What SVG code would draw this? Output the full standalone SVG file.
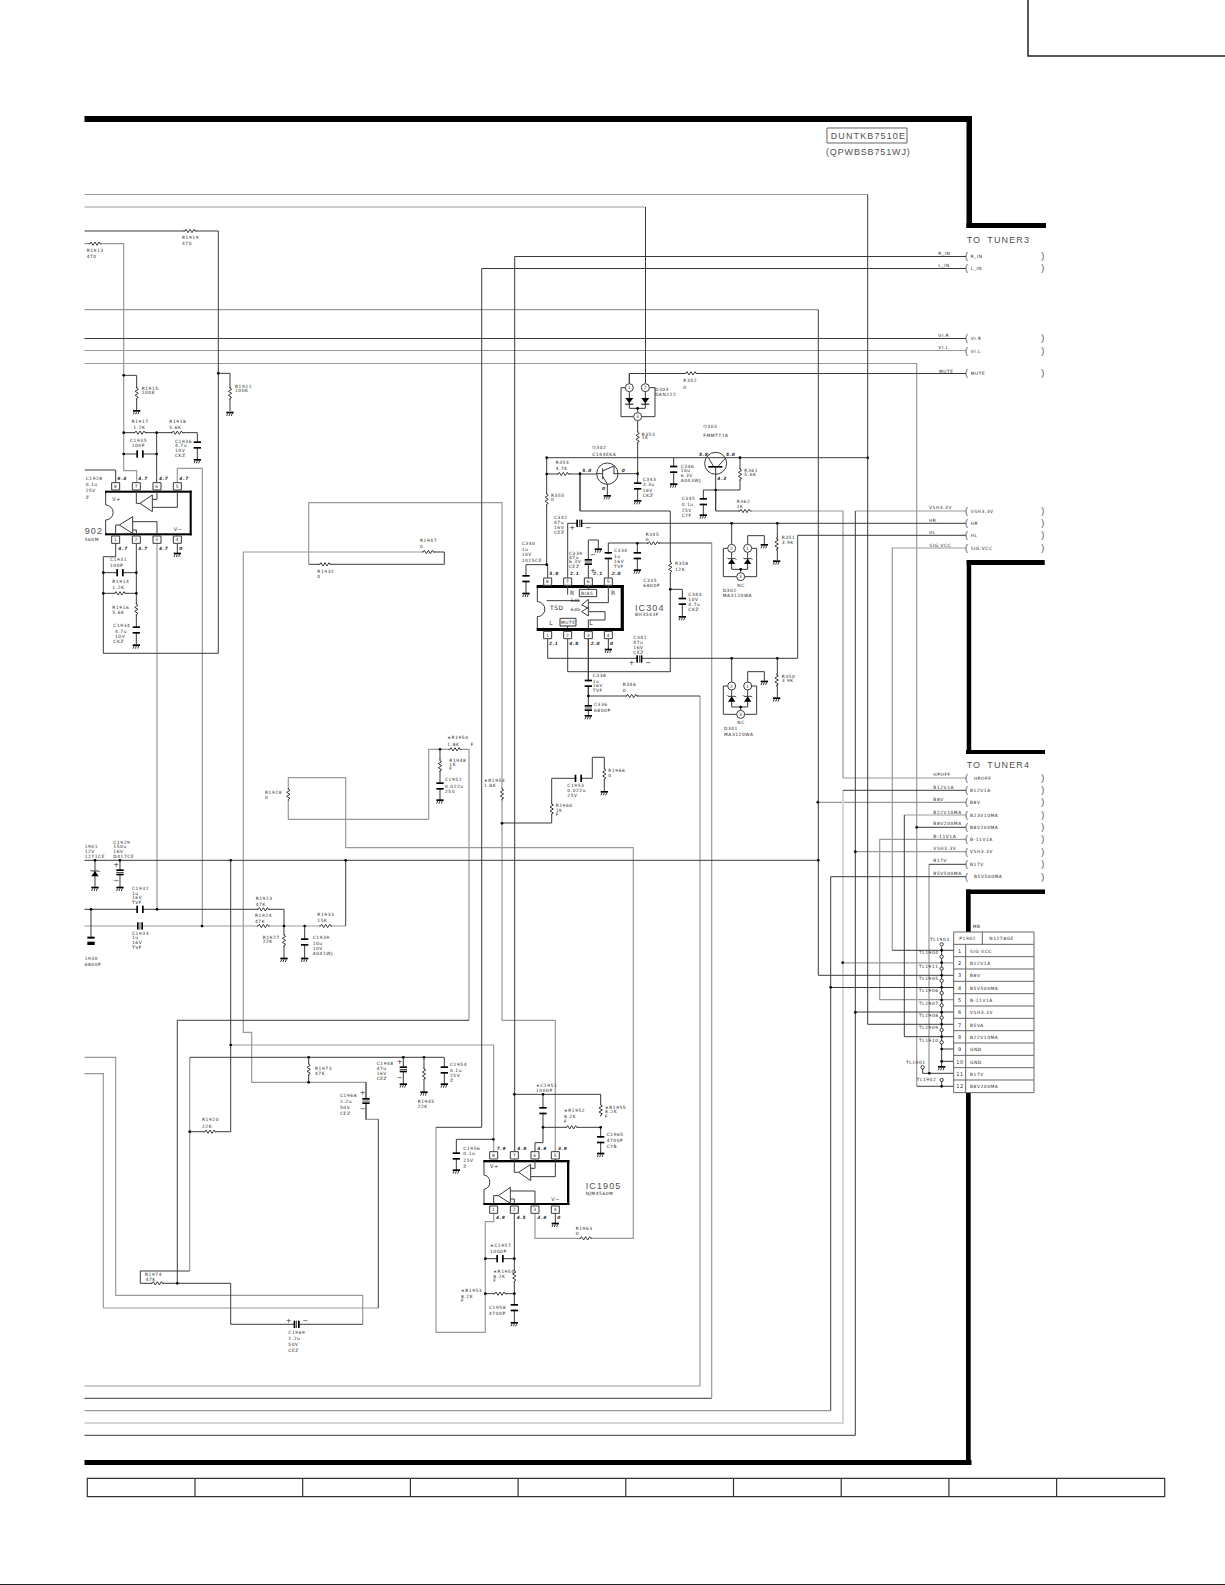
<svg xmlns="http://www.w3.org/2000/svg" xmlns:xlink="http://www.w3.org/1999/xlink" width="1225" height="1585" viewBox="0 0 1225 1585">
<style>
path,line,rect,circle,polygon{vector-effect:non-scaling-stroke}
text{font:13.2px "DejaVu Sans",sans-serif;letter-spacing:1.7px;fill:#222;opacity:.97}
.v{font-style:italic;font-weight:bold}
.big{font:27px "Liberation Sans",sans-serif;letter-spacing:3.4px;fill:#4a4a4a}
.p{font-size:21px}
.n{font-size:15px;text-anchor:middle}
.m{text-anchor:middle}
.d,.g,.l{fill:none}
.d{stroke:#3a3a3a;stroke-width:1}
.g{stroke:#999;stroke-width:1.2}
.l{stroke:#d6d6d6;stroke-width:2}
.s{fill:#fff;stroke:#3a3a3a;stroke-width:1}
.h{fill:none;stroke:#3a3a3a;stroke-width:1}
.k{fill:#000}
.th{fill:none;stroke:#666;stroke-width:1}
</style>
<defs>
<g id="r"><rect x="-16" y="-7" width="32" height="14" fill="#fff"/><path class="h" d="M-19 0H-15L-12 -5L-6 5L0 -5L6 5L12 -5L15 0H19"/></g>
<g id="rv"><use xlink:href="#r" href="#r" transform="rotate(90)"/></g>
<g id="e"><rect class="k" x="-11" y="-2" width="22" height="5"/><path class="h" d="M-7 3l-3 8M0 3l-3 8M7 3l-3 8"/></g>
<g id="c"><rect x="-11" y="-6" width="22" height="12" fill="#fff"/><rect class="k" x="-11" y="-11" width="22" height="5"/><rect class="k" x="-11" y="6" width="22" height="5"/></g>
<g id="ch"><use xlink:href="#c" href="#c" transform="rotate(90)"/></g>
<g id="pc"><rect x="-11" y="-6" width="22" height="12" fill="#fff"/><rect class="k" x="-11" y="-9" width="22" height="5"/><rect class="k" x="-11" y="-1" width="22" height="2"/><rect class="k" x="-11" y="4" width="22" height="5"/></g>
<g id="pch"><use xlink:href="#pc" href="#pc" transform="rotate(90)"/></g>
<circle id="o" class="k" r="4"/>
<rect id="pin" class="s" x="-12" y="-11" width="24" height="22"/>
<g id="z"><polygon class="k" points="-11,9 11,9 0,-7"/><path class="h" d="M-14 -10L-11 -7H11L14 -4"/></g>
<g id="dd"><polygon class="k" points="-12,-8 12,-8 0,8"/><rect class="k" x="-12" y="9" width="24" height="3"/></g>
</defs>

<g id="connectors">
<path class="g" d="M84.5 194.5H867.7M84.5 207H645.5M84.5 243.7H123.7V470.7H136.7V482.7M84.5 309.7H818.3M84.5 350.5H966M84.5 363.5H916.7V1086.3M966 548H892.3V950.3M966 511H855.3M745 511H843V778H966M966 802.3H818.3M966 815H904.3M966 839.3H879.7V999.7H953.7M966 851.7H855.3M929 864.3V1073.3M843 962.8H953.7"/>
<path class="g" d="M700 696V1386H84.5M711.7 543V1398M157 543.3V909.3M202.3 468.3H177.3V482.7M202.3 468.3V926M428 552H243.3V1032.3H251.7V1082.3H366V1119.3H378.3M103.3 1308H378.3M103.3 1308V1073.7H84.5M189.7 1271V1057.3M308.7 564.3V502.7H502V1020.3H555.3V1151.7M428.7 819.3V749.3H469V1020.3M428.7 819.3H288.3V777.7H345.7V847.7H633.3V1238.3H535V1213.3M230.7 1045H493.7V1151.7M362.7 1324.3V1295.3H115.7V1057.3H84.5M84.5 1410.7H830.7M436 1127.3V1332.3H485.3V1221.7H493.7V1213.3M84.5 926H345.7"/>
<path class="l" d="M843 790.3V1423H84.5"/>
<path class="d" d="M867.7 194.5V1024.3H953.7M645.5 207V383M84.5 231H218.3V653.3H103.3V556.7H115.7V543.3M966 256.5H514.7V1151.7M966 268.5H481.7V1127.3H436M818.3 309.7V975.3H953.7M84.5 338.5H966M966 373.5H629.3V383M567.7 578V523.3H966M547.7 638V658.3H797.7V535.3H966M892.3 950.3H953.7M855.3 511V1435.3H84.5M715.7 490V511H745M966 790.3H843M904.3 815V1036.7H953.7M966 827.3H916.7M916.7 1086.3H953.7M966 864.3H929M929 1073.3H953.7M966 876.7H830.7V1410.7M830.7 987.5H953.7M855.3 1012H953.7M84.5 860.3H818.3M546.7 457.7H867.7M608.3 578V543H711.7M711.7 1398.3H84.5M588.3 638V696H700M580 473.7V511H670.3V671.7H567.7V638M84.5 909.3H284V926M378.3 1119.3V1308M469 1020.3H177.3V1283.3H140.3V1271H189.7M177.3 1283.3H230.7V1324.3H362.7M189.7 1057.3H444M230.7 860.3V1131.7H189.7M502 823H551.7V778.3H592.3V757.3H604.3V791.7M428 552H444.3V564.3H308.7M345.7 926V860.3"/>
<g transform="translate(500 360) scale(.33333)">
<path class="d" d="M413 182V420M340 341H413M140 293V614M78 614H143V654M78 614V700M140 342H290M521 293V372M720 293V390H647M647 340V453M610 390H647M610 390V465M240 341V453M265 654V540H295V565M412 550V630M511 688H547V770M325 835V868M265 835V1072M388 40V71M695 490V553M743 553V527H793V552M832 490V600M695 895V966M743 966V935H793V962M832 895V1012M322 372V405"/>
</g>
<g transform="translate(80 360) scale(.33333)">
<path class="d" d="M131 46H170V150M415 40H450V153M131 218H352V297M131 282H230M230 218V368M107 368V330H14M292 550V580M169 550V853M70 638H169M70 700H169"/>
</g>
<g transform="translate(80 830) scale(.33333)">
<path class="d" d="M45 91V170M120 91V172M33 238V325M612 288V385M674 288V385M686 682V757M970 682V762M1032 682V785M1093 682V762M858 757V868"/>
</g>
<g transform="translate(240 720) scale(.33333)">
<path class="d" d="M600 88V240"/>
</g>
<g transform="translate(420 1080) scale(.33333)">
<path class="d" d="M109 178H220M109 178V270M283 43H542V107M369 43V188H345V215M369 142H542V220M406 238V290H332M196 536H283M196 641H283M283 400V728M406 400V430"/>
</g>
</g>

<g id="frame" class="k">
<rect x="84.5" y="116" width="887.5" height="6"/><rect x="966.5" y="116" width="5.5" height="112"/><rect x="966.5" y="223" width="79.5" height="5"/>
<rect x="966.7" y="560" width="78" height="5"/><rect x="966.7" y="560" width="4.5" height="194"/><rect x="966" y="750" width="79" height="4"/>
<rect x="966" y="889.5" width="79" height="4.5"/><rect x="966" y="889.5" width="4.7" height="42.5"/><rect x="966" y="1092.7" width="4.7" height="372"/><rect x="84.5" y="1460" width="887" height="5"/>
<path fill="none" stroke="#222" stroke-width="1.5" d="M1028 0V56H1225"/>
<path fill="none" stroke="#222" stroke-width="1" d="M0 1584.5H1225"/>
<path fill="none" stroke="#333" stroke-width="1.2" d="M87.3 1478.3H1164.7V1496.7H87.3ZM195 1478.3V1496.7M302.7 1478.3V1496.7M410.4 1478.3V1496.7M518.1 1478.3V1496.7M625.8 1478.3V1496.7M733.5 1478.3V1496.7M841.2 1478.3V1496.7M948.9 1478.3V1496.7M1056.6 1478.3V1496.7"/>
</g>

<g id="title" transform="scale(.33333)">
<rect x="2481" y="384" width="240" height="45" fill="none" stroke="#666" stroke-width="1"/>
<text class="big" x="2492" y="416">DUNTKB7510E</text>
<text class="big" x="2478" y="464" style="letter-spacing:2.6px">(QPWBSB751WJ)</text>
</g>

<g id="R1919" transform="scale(.33333)"><use href="#r" x="570" y="693"/><text x="546" y="717">R1919</text><text x="546" y="736">470</text></g>
<g id="R1913" transform="scale(.33333)"><use href="#r" x="285" y="731"/><text x="260" y="756">R1913</text><text x="260" y="774">470</text></g>

<g id="tuner3" transform="translate(840 220) scale(.33333)">
<text class="big" x="380" y="68" word-spacing="8">TO TUNER3</text>
<text x="295" y="105">R_IN</text><text x="295" y="141">L_IN</text><text x="295" y="352">VI.R</text><text x="295" y="388">VI.L</text><text x="297" y="458">MUTE</text><text x="267" y="868">VSH3.3V</text><text x="267" y="905">HR</text><text x="267" y="941">HL</text><text x="268" y="980">SIG.VCC</text>
<text x="392" y="114">R_IN</text><text x="392" y="151">L_IN</text><text x="392" y="360">VI.R</text><text x="392" y="398">VI.L</text><text x="392" y="466">MUTE</text><text x="392" y="878">VSH3.3V</text><text x="392" y="915">HR</text><text x="392" y="951">HL</text><text x="392" y="989">SIG.VCC</text>
<text class="big" x="375" y="118">(</text><text class="big" x="375" y="154">(</text><text class="big" x="375" y="364">(</text><text class="big" x="375" y="401">(</text><text class="big" x="375" y="469">(</text><text class="big" x="375" y="882">(</text><text class="big" x="375" y="919">(</text><text class="big" x="375" y="955">(</text><text class="big" x="375" y="993">(</text>
<text class="big" x="604" y="118">)</text><text class="big" x="604" y="154">)</text><text class="big" x="604" y="364">)</text><text class="big" x="604" y="401">)</text><text class="big" x="604" y="469">)</text><text class="big" x="604" y="882">)</text><text class="big" x="604" y="919">)</text><text class="big" x="604" y="955">)</text><text class="big" x="604" y="993">)</text>
</g>

<g id="tuner4" transform="translate(820 750) scale(.33333)">
<text class="big" x="440" y="55" word-spacing="8">TO TUNER4</text>
<text x="340" y="79">HPOFF</text><text x="340" y="117">B12V1A</text><text x="340" y="153">B8V</text><text x="340" y="192">B22V10MA</text><text x="340" y="225">B8V200MA</text><text x="340" y="263">B-11V1A</text><text x="340" y="300">VSH3.3V</text><text x="340" y="337">B17V</text><text x="340" y="374">B5V500MA</text>
<text x="462" y="89">HPOFF</text><text x="450" y="126">B12V1A</text><text x="450" y="162">B8V</text><text x="450" y="200">B23V10MA</text><text x="450" y="237">B8V200MA</text><text x="450" y="273">B-11V1A</text><text x="450" y="310">VSH3.3V</text><text x="450" y="348">B17V</text><text x="462" y="385">B5V500MA</text>
<text class="big" x="435" y="93">(</text><text class="big" x="435" y="130">(</text><text class="big" x="435" y="166">(</text><text class="big" x="435" y="204">(</text><text class="big" x="435" y="241">(</text><text class="big" x="435" y="277">(</text><text class="big" x="435" y="314">(</text><text class="big" x="435" y="352">(</text><text class="big" x="435" y="389">(</text>
<text class="big" x="664" y="93">)</text><text class="big" x="664" y="130">)</text><text class="big" x="664" y="166">)</text><text class="big" x="664" y="204">)</text><text class="big" x="664" y="241">)</text><text class="big" x="664" y="277">)</text><text class="big" x="664" y="314">)</text><text class="big" x="664" y="352">)</text><text class="big" x="664" y="389">)</text>
<use href="#o" x="290" y="232"/>
</g>

<g id="P1902" transform="translate(820 750) scale(.33333)">
<text x="458" y="535">MB</text>
<path class="h" d="M365 590V950"/>
<path class="h" d="M365 897H401M365 934H401"/>
<use href="#e" x="365" y="950"/>
<rect x="401" y="546" width="241" height="482" fill="#fff" stroke="#666" stroke-width="1"/>
<path class="th" d="M401 583H642M401 620H642M401 657H642M401 694H642M401 731H642M401 768H642M401 805H642M401 842H642M401 879H642M401 916H642M401 953H642M401 990H642M437 583V1028M487 546V583"/>
<text x="418" y="571">P1902</text><text x="508" y="571">N1278GE</text>
<text class="n" x="420" y="608">1</text><text class="n" x="420" y="645">2</text><text class="n" x="420" y="682">3</text><text class="n" x="420" y="719">4</text><text class="n" x="420" y="756">5</text><text class="n" x="420" y="793">6</text><text class="n" x="420" y="830">7</text><text class="n" x="420" y="867">8</text><text class="n" x="420" y="904">9</text><text class="n" x="420" y="941">10</text><text class="n" x="420" y="978">11</text><text class="n" x="420" y="1015">12</text>
<text x="450" y="608">SIG VCC</text><text x="450" y="645">B12V1A</text><text x="450" y="682">B8V</text><text x="450" y="719">B5V500MA</text><text x="450" y="756">B-11V1A</text><text x="450" y="793">VSH3.3V</text><text x="450" y="830">B5VA</text><text x="450" y="867">B22V10MA</text><text x="450" y="904">GND</text><text x="450" y="941">GND</text><text x="450" y="978">B17V</text><text x="450" y="1015">B8V200MA</text>
<g fill="#fff" stroke="#3a3a3a">
<circle cx="365" cy="583" r="5"/><circle cx="365" cy="620" r="5"/><circle cx="365" cy="656" r="5"/><circle cx="365" cy="692" r="5"/><circle cx="365" cy="729" r="5"/><circle cx="365" cy="766" r="5"/><circle cx="365" cy="803" r="5"/><circle cx="365" cy="840" r="5"/><circle cx="365" cy="877" r="5"/><circle cx="308" cy="952" r="5"/><circle cx="365" cy="990" r="5"/>
</g>
<path class="h" d="M308 957V970H328M365 995V1009"/>
<use href="#o" x="365" y="601"/><use href="#o" x="365" y="638"/><use href="#o" x="365" y="676"/><use href="#o" x="365" y="712"/><use href="#o" x="365" y="750"/><use href="#o" x="365" y="787"/><use href="#o" x="365" y="823"/><use href="#o" x="365" y="860"/><use href="#o" x="365" y="897"/><use href="#o" x="365" y="934"/><use href="#o" x="328" y="970"/><use href="#o" x="365" y="1009"/>
<use href="#o" x="68" y="638"/><use href="#o" x="32" y="712"/><use href="#o" x="106" y="787"/><use href="#o" x="106" y="305"/>
<text x="330" y="572">TL1903</text><text x="297" y="613">TL1904</text><text x="297" y="653">TL1911</text><text x="297" y="690">TL1905</text><text x="297" y="727">TL1906</text><text x="297" y="764">TL1907</text><text x="297" y="801">TL1908</text><text x="297" y="838">TL1909</text><text x="297" y="875">TL1910</text><text x="258" y="943">TL1901</text><text x="290" y="993">TL1902</text>
</g>

<g id="junctions-right"><circle class="k" cx="817.8" cy="802.3" r="1.3"/><circle class="k" cx="818.3" cy="860.3" r="1.3"/><circle class="k" cx="867.7" cy="457.7" r="1.3"/></g>

<g id="area-ic304" transform="translate(500 360) scale(.33333)">
<g id="D303"><path class="h" d="M363 83H376M363 83V170H401M425 170H465V83H448M388 95V145H436V95M413 145V158"/><use href="#dd" x="388" y="122"/><use href="#dd" x="436" y="122"/><use href="#o" x="413" y="145"/><circle class="s" cx="388" cy="83" r="12"/><circle class="s" cx="436" cy="83" r="12"/><circle class="s" cx="413" cy="170" r="12"/><text class="m" x="388" y="88">1</text><text class="m" x="436" y="88">2</text><text class="m" x="413" y="175">3</text><text x="465" y="93">D303</text><text x="465" y="108">DAN222</text></g>
<g id="R352"><use href="#r" x="573" y="40"/><text x="550" y="67">R352</text><text x="550" y="87">0</text></g>
<g id="R353"><use href="#rv" x="413" y="232"/><text x="425" y="227">R353</text><text x="425" y="238">1K</text></g>
<g id="Q302"><circle class="h" cx="322" cy="341" r="32"/><path class="h" d="M290 341H308M308 325V357M308 333L342 318V341M308 349L322 372"/><use href="#e" x="322" y="407"/><text x="277" y="267">Q302</text><text x="277" y="287">C144EKA</text><text class="v" x="247" y="335">5.0</text><text class="v" x="365" y="335">0</text><text class="v" x="306" y="390">0</text></g>
<g id="Q303"><circle class="h" cx="647" cy="310" r="33"/><path class="h" d="M625 293L640 318M655 318L678 293"/><rect class="k" x="625" y="318" width="42" height="5"/><path class="h" d="M647 323V343"/><text x="610" y="205">Q303</text><text x="610" y="231">FMMT718</text><text class="v" x="597" y="288">5.8</text><text class="v" x="678" y="288">5.0</text><text class="v" x="652" y="360">4.3</text></g>
<g id="R354"><use href="#r" x="190" y="342"/><text x="167" y="312">R354</text><text x="167" y="330">4.7K</text></g>
<g id="R355"><use href="#rv" x="140" y="418"/><text x="153" y="410">R355</text><text x="153" y="422">0</text></g>
<g id="R361"><use href="#rv" x="720" y="343"/><text x="733" y="336">R361</text><text x="733" y="349">5.6K</text></g>
<g id="R362"><use href="#r" x="735" y="453"/><text x="710" y="428">R362</text><text x="710" y="443">1K</text></g>
<g id="C346"><use href="#c" x="521" y="328"/><use href="#e" x="521" y="372"/><text x="542" y="323">C346</text><text x="542" y="337">10u</text><text x="542" y="351">6.3V</text><text x="542" y="365">A043WJ</text></g>
<g id="C343"><use href="#c" x="413" y="378"/><use href="#e" x="413" y="422"/><text x="428" y="363">C343</text><text x="428" y="378">3.3u</text><text x="428" y="395">16V</text><text x="428" y="410">CKZ</text></g>
<g id="C345"><use href="#c" x="610" y="425"/><use href="#e" x="610" y="465"/><text x="545" y="420">C345</text><text x="545" y="437">0.1u</text><text x="545" y="455">25V</text><text x="545" y="472">CYF</text></g>
<g id="C342"><use href="#pch" x="238" y="490"/><text x="162" y="477">C342</text><text x="162" y="493">47u</text><text x="162" y="508">16V</text><text x="162" y="522">CEZ</text><text class="p" x="208" y="511">+</text><text class="p" x="256" y="511">−</text></g>
<g id="C340"><use href="#c" x="78" y="656"/><use href="#e" x="78" y="700"/><text x="65" y="556">C340</text><text x="65" y="572">1u</text><text x="65" y="588">10V</text><text x="65" y="606">1025CE</text></g>
<g id="C338"><use href="#pc" x="265" y="606"/><use href="#e" x="295" y="567"/><text x="207" y="585">C339</text><text x="207" y="597">47u</text><text x="207" y="610">6.3V</text><text x="207" y="624">CEZ</text><text class="p" x="270" y="591">−</text><text class="p" x="270" y="640">+</text></g>
<g id="C334"><use href="#c" x="325" y="587"/><text x="342" y="577">C334</text><text x="342" y="593">1u</text><text x="342" y="609">16V</text><text x="342" y="625">TVF</text></g>
<g id="C335"><use href="#c" x="412" y="587"/><use href="#e" x="412" y="630"/><text x="430" y="665">C335</text><text x="430" y="682">6800P</text></g>
<g id="R345"><use href="#r" x="460" y="550"/><text x="437" y="528">R345</text><text x="437" y="542">0</text></g>
<g id="R358"><use href="#rv" x="511" y="622"/><text x="525" y="615">R358</text><text x="525" y="633">12K</text></g>
<g id="C344"><use href="#c" x="547" y="724"/><use href="#e" x="547" y="770"/><text x="565" y="708">C344</text><text x="565" y="723">10V</text><text x="565" y="739">4.7u</text><text x="565" y="754">CKZ</text></g>
<g id="C341"><use href="#pch" x="418" y="897"/><text x="400" y="837">C341</text><text x="400" y="852">47u</text><text x="400" y="867">16V</text><text x="400" y="881">CEZ</text><text class="p" x="386" y="916">+</text><text class="p" x="436" y="916">−</text></g>
<g id="C336"><use href="#c" x="265" y="970"/><use href="#pc" x="265" y="1044"/><use href="#e" x="265" y="1067"/><text x="278" y="952">C338</text><text x="278" y="968">1u</text><text x="278" y="982">16V</text><text x="278" y="996">TVF</text><text x="282" y="1038">C336</text><text x="282" y="1057">6800P</text></g>
<g id="R346"><use href="#r" x="395" y="1008"/><text x="368" y="978">R346</text><text x="368" y="995">0</text></g>
<g id="IC304">
<path class="s" d="M112 678H370V808H112V770A22 22 0 0 0 112 725Z"/>
<rect class="k" x="110" y="675" width="261" height="9"/><rect class="k" x="110" y="804" width="261" height="9"/><rect class="k" x="362" y="675" width="9" height="138"/>
<path class="h" d="M325 676V728H265M265 755H315V780H265V804M203 676V704M265 676V688M203 798V804M245 735L265 718V745ZM245 755L265 742V768ZM140 722H238"/>
<rect class="s" x="238" y="688" width="52" height="22"/><rect class="s" x="180" y="775" width="48" height="23"/>
<text x="243" y="704">BIAS</text><text x="183" y="791">MUTE</text>
<text x="210" y="705" style="font-size:18px">R</text><text x="333" y="705" style="font-size:18px">R</text><text x="148" y="794" style="font-size:18px">L</text><text x="268" y="796" style="font-size:18px">L</text><text x="150" y="751" style="font-size:18px">TSD</text><text x="212" y="727">6db</text><text x="212" y="753">6db</text>
<use href="#pin" x="143" y="665"/><use href="#pin" x="203" y="665"/><use href="#pin" x="265" y="665"/><use href="#pin" x="325" y="665"/><use href="#pin" x="143" y="825"/><use href="#pin" x="203" y="825"/><use href="#pin" x="265" y="825"/><use href="#pin" x="325" y="825"/>
<text class="m" x="143" y="670">8</text><text class="m" x="203" y="670">7</text><text class="m" x="265" y="670">6</text><text class="m" x="325" y="670">5</text><text class="m" x="143" y="830">1</text><text class="m" x="203" y="830">2</text><text class="m" x="265" y="830">3</text><text class="m" x="325" y="830">4</text>
<text class="v" x="148" y="645">5.8</text><text class="v" x="210" y="645">2.1</text><text class="v" x="280" y="645">2.1</text><text class="v" x="335" y="645">2.0</text><text class="v" x="147" y="856">2.1</text><text class="v" x="208" y="856">4.8</text><text class="v" x="272" y="856">2.0</text><text class="v" x="330" y="856">0</text>
<text class="big" x="405" y="752">IC304</text><text x="405" y="769">BH3543F</text>
<use href="#e" x="325" y="868"/>
</g>
<g id="D302"><path class="h" d="M670 565H683M670 565V650H710M734 650H770V565H755M695 577V628H743V577M722 628V638"/><use href="#z" x="695" y="603"/><use href="#z" x="743" y="603"/><use href="#o" x="722" y="628"/><circle class="s" cx="695" cy="565" r="12"/><circle class="s" cx="743" cy="565" r="12"/><circle class="s" cx="722" cy="650" r="12"/><text class="m" x="695" y="570">2</text><text class="m" x="743" y="570">1</text><text class="m" x="722" y="655">3</text><text x="712" y="680">NC</text><text x="668" y="695">D302</text><text x="668" y="712">MA3120WA</text><use href="#e" x="793" y="554"/></g>
<g id="R351"><use href="#rv" x="830" y="552"/><use href="#e" x="830" y="603"/><text x="845" y="538">R351</text><text x="845" y="552">3.9K</text></g>
<g id="D301"><path class="h" d="M670 978H683M670 978V1063H710M734 1063H770V978H755M695 990V1041H743V990M722 1041V1051"/><use href="#z" x="695" y="1016"/><use href="#z" x="743" y="1016"/><use href="#o" x="722" y="1041"/><circle class="s" cx="695" cy="978" r="12"/><circle class="s" cx="743" cy="978" r="12"/><circle class="s" cx="722" cy="1063" r="12"/><text class="m" x="695" y="983">2</text><text class="m" x="743" y="983">1</text><text class="m" x="722" y="1068">3</text><text x="712" y="1093">NC</text><text x="672" y="1110">D301</text><text x="672" y="1127">MA3120WA</text><use href="#e" x="793" y="964"/></g>
<g id="R350"><use href="#rv" x="830" y="960"/><use href="#e" x="830" y="1014"/><text x="845" y="953">R350</text><text x="845" y="966">3.9K</text></g>
<g id="dots304"><use href="#o" x="140" y="342"/><use href="#o" x="240" y="341"/><use href="#o" x="413" y="341"/><use href="#o" x="720" y="293"/><use href="#o" x="647" y="390"/><use href="#o" x="140" y="614"/><use href="#o" x="412" y="550"/><use href="#o" x="511" y="688"/><use href="#o" x="265" y="1008"/><use href="#o" x="695" y="490"/><use href="#o" x="832" y="490"/><use href="#o" x="695" y="895"/><use href="#o" x="832" y="895"/><use href="#o" x="140" y="293"/></g>
</g>

<g id="area-ic1902" transform="translate(80 360) scale(.33333)">
<g id="IC1902">
<path class="s" d="M77 395H332V523H77V480A22 22 0 0 0 77 435Z"/>
<rect class="k" x="75" y="392" width="260" height="6"/><rect class="k" x="75" y="520" width="260" height="6"/><rect class="k" x="329" y="392" width="6" height="134"/>
<path class="h" d="M169 390V430H180M231 390V418H217M292 390V442H217M180 430L217 405V455ZM118 495L158 470V520ZM107 523V495H118M231 523V485H158M169 523V510H158"/>
<use href="#pin" x="107" y="379"/><use href="#pin" x="169" y="379"/><use href="#pin" x="231" y="379"/><use href="#pin" x="292" y="379"/><use href="#pin" x="107" y="539"/><use href="#pin" x="169" y="539"/><use href="#pin" x="231" y="539"/><use href="#pin" x="292" y="539"/>
<text class="m" x="107" y="384">8</text><text class="m" x="169" y="384">7</text><text class="m" x="231" y="384">6</text><text class="m" x="292" y="384">5</text><text class="m" x="107" y="544">1</text><text class="m" x="169" y="544">2</text><text class="m" x="231" y="544">3</text><text class="m" x="292" y="544">4</text>
<text class="v" x="112" y="360">9.4</text><text class="v" x="175" y="360">4.7</text><text class="v" x="237" y="360">4.7</text><text class="v" x="298" y="360">4.7</text><text class="v" x="115" y="570">4.7</text><text class="v" x="175" y="570">4.7</text><text class="v" x="237" y="570">4.7</text><text class="v" x="298" y="570">0</text>
<text x="97" y="423" style="font-size:15px">V+</text><text x="281" y="513" style="font-size:15px">V−</text>
<text class="big" x="14" y="523">902</text><text x="14" y="542">560M</text>
<text x="17" y="360">C1928</text><text x="17" y="378">0.1u</text><text x="17" y="396">25V</text><text x="17" y="417">Z</text>
<use href="#e" x="292" y="580"/>
</g>
<g id="R1915"><use href="#rv" x="170" y="100"/><use href="#e" x="170" y="152"/><text x="185" y="90">R1915</text><text x="185" y="103">100K</text></g>
<g id="R1921"><use href="#rv" x="450" y="100"/><use href="#e" x="450" y="157"/><text x="465" y="85">R1921</text><text x="465" y="97">100K</text></g>
<g id="R1917"><use href="#r" x="180" y="218"/><text x="155" y="190">R1917</text><text x="160" y="207">1.2K</text></g>
<g id="R1918"><use href="#r" x="292" y="218"/><text x="268" y="190">R1918</text><text x="268" y="207">5.6K</text></g>
<g id="C1935"><use href="#ch" x="180" y="282"/><text x="150" y="245">C1935</text><text x="155" y="262">100P</text></g>
<g id="C1936"><use href="#c" x="352" y="255"/><use href="#e" x="352" y="299"/><text x="285" y="249">C1936</text><text x="285" y="262">4.7u</text><text x="285" y="276">10V</text><text x="285" y="290">CKZ</text></g>
<g id="C1931"><use href="#ch" x="120" y="638"/><text x="90" y="602">C1931</text><text x="90" y="620">100P</text></g>
<g id="R1914"><use href="#r" x="120" y="700"/><text x="97" y="670">R1914</text><text x="97" y="687">1.2K</text></g>
<g id="R1916"><use href="#rv" x="169" y="748"/><text x="97" y="748">R1916</text><text x="97" y="761">5.6K</text></g>
<g id="C1934"><use href="#c" x="169" y="810"/><use href="#e" x="169" y="855"/><text x="100" y="802">C1934</text><text x="105" y="820">4.7u</text><text x="105" y="834">10V</text><text x="100" y="850">CKZ</text></g>
<g id="R1947"><use href="#r" x="1045" y="576"/><text x="1020" y="546">R1947</text><text x="1020" y="564">0</text></g>
<g id="R1932"><use href="#r" x="735" y="613"/><text x="712" y="638">R1932</text><text x="712" y="653">0</text></g>
<g id="dots1902"><use href="#o" x="131" y="46"/><use href="#o" x="415" y="40"/><use href="#o" x="131" y="218"/><use href="#o" x="131" y="282"/><use href="#o" x="230" y="218"/><use href="#o" x="230" y="282"/><use href="#o" x="70" y="638"/><use href="#o" x="70" y="700"/><use href="#o" x="169" y="638"/><use href="#o" x="169" y="700"/></g>
</g>

<g id="area-left" transform="translate(80 830) scale(.33333)">
<g id="D1901"><use href="#z" x="45" y="130"/><use href="#e" x="45" y="172"/><text x="14" y="55">1901</text><text x="14" y="69">12V</text><text x="14" y="83">1271CE</text></g>
<g id="C1929"><use href="#pc" x="120" y="127"/><use href="#e" x="120" y="172"/><text x="100" y="41">C1929</text><text x="100" y="55">150u</text><text x="100" y="70">16V</text><text x="100" y="84">D417CE</text><text class="p" x="100" y="110">+</text><text class="p" x="100" y="160">−</text></g>
<g id="C1932"><use href="#ch" x="180" y="238"/><text x="156" y="180">C1932</text><text x="156" y="195">1u</text><text x="156" y="208">16V</text><text x="156" y="222">TVF</text></g>
<g id="C1933"><use href="#pch" x="180" y="288"/><text x="156" y="315">C1933</text><text x="156" y="328">1u</text><text x="156" y="343">16V</text><text x="156" y="358">TVF</text></g>
<g id="C1930"><rect class="k" x="22" y="320" width="22" height="6"/><rect class="k" x="22" y="335" width="22" height="10"/><text x="14" y="390">1930</text><text x="14" y="408">6800P</text></g>
<g id="R1923"><use href="#r" x="550" y="238"/><text x="527" y="209">R1923</text><text x="527" y="227">47K</text></g>
<g id="R1924"><use href="#r" x="550" y="288"/><text x="525" y="261">R1924</text><text x="525" y="278">47K</text></g>
<g id="R1927"><use href="#rv" x="612" y="331"/><use href="#e" x="612" y="385"/><text x="548" y="327">R1927</text><text x="548" y="340">22K</text></g>
<g id="C1939"><use href="#c" x="674" y="336"/><use href="#e" x="674" y="385"/><text x="698" y="327">C1939</text><text x="698" y="344">10u</text><text x="698" y="360">10V</text><text x="698" y="375">A041WJ</text></g>
<g id="R1933"><use href="#r" x="737" y="288"/><text x="712" y="258">R1933</text><text x="712" y="277">15K</text></g>
<g id="R1973"><use href="#rv" x="686" y="718"/><text x="705" y="721">R1973</text><text x="705" y="735">47K</text></g>
<g id="C1948"><use href="#pc" x="970" y="718"/><use href="#e" x="970" y="762"/><text x="890" y="705">C1948</text><text x="890" y="720">47u</text><text x="890" y="734">16V</text><text x="890" y="749">CEZ</text><text class="p" x="950" y="702">+</text><text class="p" x="950" y="750">−</text></g>
<g id="R1945"><use href="#rv" x="1032" y="732"/><use href="#e" x="1032" y="786"/><text x="1013" y="820">R1945</text><text x="1013" y="833">22K</text></g>
<g id="C1954"><use href="#c" x="1093" y="720"/><use href="#e" x="1093" y="762"/><text x="1110" y="707">C1954</text><text x="1110" y="725">0.1u</text><text x="1110" y="740">25V</text><text x="1110" y="755">Z</text></g>
<g id="C1968"><use href="#pc" x="858" y="813"/><text x="780" y="800">C1968</text><text x="780" y="819">2.2u</text><text x="780" y="837">50V</text><text x="780" y="855">CEZ</text><text class="p" x="839" y="795">+</text><text class="p" x="839" y="842">−</text></g>
<g id="R1920"><use href="#r" x="390" y="905"/><text x="366" y="874">R1920</text><text x="366" y="893">22K</text></g>
<g id="dotsleft"><use href="#o" x="45" y="91"/><use href="#o" x="120" y="91"/><use href="#o" x="452" y="91"/><use href="#o" x="797" y="91"/><use href="#o" x="33" y="238"/><use href="#o" x="231" y="238"/><use href="#o" x="366" y="288"/><use href="#o" x="612" y="288"/><use href="#o" x="674" y="288"/><use href="#o" x="452" y="645"/><use href="#o" x="686" y="682"/><use href="#o" x="686" y="757"/><use href="#o" x="970" y="682"/><use href="#o" x="1032" y="682"/><use href="#o" x="329" y="905"/></g>
</g>

<g id="area-mid" transform="translate(240 720) scale(.33333)">
<g id="R1950"><use href="#r" x="645" y="88"/><text x="622" y="58">∗R1950</text><text x="622" y="77">1.8K</text><text x="692" y="77">F</text></g>
<g id="R1948"><use href="#rv" x="600" y="137"/><text x="628" y="126">R1948</text><text x="628" y="139">1K</text><text x="628" y="151">F</text></g>
<g id="C1952"><use href="#c" x="600" y="198"/><use href="#e" x="600" y="240"/><text x="615" y="184">C1952</text><text x="615" y="203">0.022u</text><text x="615" y="220">25V</text></g>
<g id="R1928"><use href="#rv" x="145" y="223"/><text x="75" y="223">R1928</text><text x="75" y="237">0</text></g>
<g id="R1953"><use href="#rv" x="786" y="222"/><text x="732" y="185">∗R1953</text><text x="732" y="202">1.8K</text></g>
<g id="R1960"><use href="#rv" x="935" y="267"/><text x="947" y="262">R1960</text><text x="947" y="275">1K</text><text x="947" y="288">F</text></g>
<g id="C1953"><use href="#ch" x="1015" y="175"/><text x="982" y="201">C1953</text><text x="982" y="216">0.022u</text><text x="982" y="231">25V</text></g>
<g id="R1966"><use href="#rv" x="1093" y="162"/><use href="#e" x="1093" y="215"/><text x="1105" y="157">R1966</text><text x="1105" y="170">0</text></g>
<use href="#o" x="600" y="88"/><use href="#o" x="786" y="310"/>
</g>

<g id="area-ic1905" transform="translate(420 1080) scale(.33333)">
<g id="IC1905">
<path class="s" d="M192 243H445V372H192V328A22 22 0 0 0 192 285Z"/>
<rect class="k" x="190" y="240" width="258" height="7"/><rect class="k" x="190" y="369" width="258" height="6"/><rect class="k" x="441" y="240" width="7" height="135"/>
<path class="h" d="M283 238V277H296M345 238V265H332M406 238V290H332M296 277L332 253V302ZM235 347L271 322V370ZM221 372V347H235M345 372V333H271M283 372V357H271"/>
<use href="#pin" x="221" y="226"/><use href="#pin" x="283" y="226"/><use href="#pin" x="345" y="226"/><use href="#pin" x="406" y="226"/><use href="#pin" x="221" y="389"/><use href="#pin" x="283" y="389"/><use href="#pin" x="345" y="389"/><use href="#pin" x="406" y="389"/>
<text class="m" x="221" y="231">8</text><text class="m" x="283" y="231">7</text><text class="m" x="345" y="231">6</text><text class="m" x="406" y="231">5</text><text class="m" x="221" y="394">1</text><text class="m" x="283" y="394">2</text><text class="m" x="345" y="394">3</text><text class="m" x="406" y="394">4</text>
<text class="v" x="230" y="210">7.9</text><text class="v" x="292" y="210">4.9</text><text class="v" x="352" y="210">4.9</text><text class="v" x="414" y="210">3.9</text><text class="v" x="228" y="418">4.9</text><text class="v" x="290" y="418">4.5</text><text class="v" x="352" y="418">3.9</text><text class="v" x="412" y="418">0</text>
<text x="210" y="265" style="font-size:15px">V+</text><text x="394" y="363" style="font-size:15px">V−</text>
<text class="big" x="497" y="326">IC1905</text><text x="497" y="345">NJM4560M</text>
<use href="#e" x="406" y="430"/>
</g>
<g id="C1951"><use href="#c" x="369" y="92"/><text x="348" y="20">∗C1951</text><text x="348" y="36">1000P</text></g>
<g id="R1952"><use href="#r" x="455" y="142"/><text x="432" y="95">∗R1952</text><text x="432" y="113">8.2K</text><text x="432" y="130">F</text></g>
<g id="R1955"><use href="#rv" x="542" y="90"/><text x="555" y="87">∗R1955</text><text x="555" y="100">8.2K</text><text x="555" y="115">F</text></g>
<g id="C1965"><use href="#c" x="542" y="179"/><use href="#e" x="542" y="220"/><text x="560" y="167">C1965</text><text x="560" y="186">4700P</text><text x="560" y="204">CYB</text></g>
<g id="C1956"><use href="#c" x="109" y="228"/><use href="#e" x="109" y="270"/><text x="130" y="209">C1956</text><text x="130" y="225">0.1u</text><text x="130" y="245">25V</text><text x="130" y="263">Z</text></g>
<g id="C1957"><use href="#ch" x="240" y="536"/><text x="210" y="500">∗C1957</text><text x="210" y="518">1000P</text></g>
<g id="R1954"><use href="#rv" x="283" y="588"/><text x="220" y="580">∗R1954</text><text x="220" y="593">8.2K</text><text x="220" y="607">F</text></g>
<g id="R1953b"><use href="#r" x="240" y="641"/><text x="123" y="637">∗R1953</text><text x="123" y="653">8.2K</text><text x="123" y="667">F</text></g>
<g id="C1958"><use href="#c" x="283" y="683"/><use href="#e" x="283" y="728"/><text x="207" y="688">C1958</text><text x="207" y="705">4700P</text></g>
<g id="R1963"><use href="#r" x="497" y="475"/><text x="467" y="450">R1963</text><text x="467" y="465">0</text></g>
<use href="#o" x="220" y="178"/><use href="#o" x="283" y="43"/><use href="#o" x="369" y="43"/><use href="#o" x="369" y="142"/><use href="#o" x="542" y="142"/><use href="#o" x="196" y="536"/><use href="#o" x="283" y="536"/><use href="#o" x="196" y="641"/><use href="#o" x="283" y="641"/>
</g>

<g id="area-bottom" transform="translate(80 1240) scale(.33333)">
<g id="R1974"><use href="#r" x="232" y="130"/><text x="195" y="107">R1974</text><text x="197" y="122">47K</text></g>
<use href="#o" x="292" y="130"/>
<g id="C1969"><use href="#pch" x="650" y="253"/><text class="p" x="617" y="250">+</text><text class="p" x="667" y="250">−</text><text x="625" y="281">C1969</text><text x="625" y="300">2.2u</text><text x="625" y="318">50V</text><text x="625" y="335">CEZ</text></g>
</g>
</svg>
